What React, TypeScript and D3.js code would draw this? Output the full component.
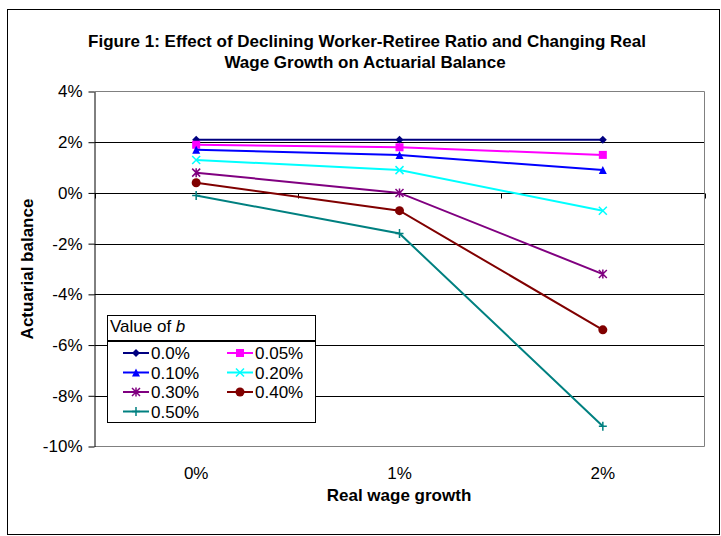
import React, { useEffect, useRef } from 'react';
import * as d3 from 'd3';

const categories = ["0%", "1%", "2%"];
const seriesNames = ["0.0%", "0.05%", "0.10%", "0.20%", "0.30%", "0.40%", "0.50%"];
const b000 = [2.1, 2.1, 2.1];
const b005 = [1.9, 1.8, 1.5];
const b010 = [1.7, 1.5, 0.9];
const b020 = [1.3, 0.9, -0.7];
const b030 = [0.8, 0.0, -3.2];
const b040 = [0.4, -0.7, -5.4];
const b050 = [-0.1, -1.6, -9.2];
const yTicks = [4, 2, 0, -2, -4, -6, -8, -10];

const seriesValues = [b000, b005, b010, b020, b030, b040, b050];
const colors = ["#000080", "#FF00FF", "#0000FF", "#00FFFF", "#800080", "#800000", "#008080"];
const markers = ["diamond", "square", "triangle", "x", "star", "circle", "plus"];

const FONT = "'Liberation Sans', Arial, sans-serif";
const FS = 17;

// draw one marker centred at (cx, cy)
function drawMarker(g: any, kind: string, cx: number, cy: number, color: string) {
  const s = 4;
  if (kind === "diamond") {
    g.append("path")
      .attr("d", `M${cx},${cy - s}L${cx + s},${cy}L${cx},${cy + s}L${cx - s},${cy}Z`)
      .attr("fill", color);
  } else if (kind === "square") {
    g.append("rect")
      .attr("x", cx - s).attr("y", cy - s)
      .attr("width", 2 * s).attr("height", 2 * s)
      .attr("fill", color);
  } else if (kind === "triangle") {
    g.append("path")
      .attr("d", `M${cx},${cy - s}L${cx + s},${cy + s}L${cx - s},${cy + s}Z`)
      .attr("fill", color);
  } else if (kind === "circle") {
    g.append("circle").attr("cx", cx).attr("cy", cy).attr("r", s + 0.5).attr("fill", color);
  } else {
    const p = d3.path();
    if (kind === "x" || kind === "star") {
      p.moveTo(cx - s, cy - s); p.lineTo(cx + s, cy + s);
      p.moveTo(cx + s, cy - s); p.lineTo(cx - s, cy + s);
    }
    if (kind === "star" || kind === "plus") {
      p.moveTo(cx, cy - s - 0.5); p.lineTo(cx, cy + s + 0.5);
    }
    if (kind === "plus") {
      p.moveTo(cx - s, cy); p.lineTo(cx + s, cy);
    }
    g.append("path").attr("d", p.toString()).attr("stroke", color)
      .attr("stroke-width", 1.5).attr("fill", "none");
  }
}

const App: React.FC = () => {
  const ref = useRef<SVGSVGElement | null>(null);

  useEffect(() => {
    if (!ref.current) return;
    const svg = d3.select(ref.current);
    svg.selectAll("*").remove();

    const left = 94.5, right = 704.5, top = 91.5, bottom = 446.5;

    const x = d3.scaleBand().domain(categories).range([left, right]).padding(0);
    const cx = (c: string) => (x(c) as number) + x.bandwidth() / 2;
    const y = d3.scaleLinear().domain([-10, 4]).range([bottom, top]);

    // outer chart border
    svg.append("rect")
      .attr("x", 7.5).attr("y", 9.5).attr("width", 712).attr("height", 525)
      .attr("fill", "#fff").attr("stroke", "#000").attr("stroke-width", 1);

    // title
    const title = svg.append("text")
      .attr("font-family", FONT).attr("font-size", FS)
      .attr("font-weight", "bold").attr("text-anchor", "middle");
    title.append("tspan").attr("x", 367).attr("y", 47)
      .text("Figure 1: Effect of Declining Worker-Retiree Ratio and Changing Real");
    title.append("tspan").attr("x", 365).attr("y", 68)
      .text("Wage Growth on Actuarial Balance");

    // gridlines
    svg.append("g").selectAll("line").data(yTicks.filter((t) => t !== 4 && t !== -10)).enter()
      .append("line")
      .attr("x1", left).attr("x2", right)
      .attr("y1", (d) => Math.round(y(d)) + 0.5).attr("y2", (d) => Math.round(y(d)) + 0.5)
      .attr("stroke", "#000").attr("stroke-width", 1);

    // plot border (top, right, bottom)
    svg.append("path")
      .attr("d", `M${left},${top}H${right}V${bottom}H${left}`)
      .attr("fill", "none").attr("stroke", "#808080").attr("stroke-width", 1);

    // y axis
    const yAxis = svg.append("g")
      .attr("transform", `translate(${left},0)`)
      .call(d3.axisLeft(y).tickValues(yTicks).tickSize(6).tickSizeOuter(0).tickFormat((d) => `${d}%`));
    yAxis.select(".domain").attr("stroke", "#000");
    yAxis.selectAll("line").attr("stroke", "#000");
    yAxis.selectAll("text").attr("font-family", FONT).attr("font-size", FS).attr("fill", "#000")
      .attr("x", -12);

    // x axis line at 0 with tick marks at band boundaries
    const y0 = Math.round(y(0)) + 0.5;
    svg.append("line").attr("x1", left).attr("x2", right).attr("y1", y0).attr("y2", y0)
      .attr("stroke", "#000");
    const bounds = categories.map((c) => x(c) as number).concat([right]);
    svg.append("g").selectAll("line").data(bounds).enter().append("line")
      .attr("x1", (d) => Math.round(d) + 0.5).attr("x2", (d) => Math.round(d) + 0.5)
      .attr("y1", y0).attr("y2", y0 + 5).attr("stroke", "#000");

    // x tick labels (low position)
    svg.append("g").selectAll("text").data(categories).enter().append("text")
      .attr("x", (d) => cx(d)).attr("y", 479)
      .attr("text-anchor", "middle").attr("font-family", FONT).attr("font-size", FS)
      .text((d) => d);

    // axis titles
    svg.append("text").attr("x", 399).attr("y", 501).attr("text-anchor", "middle")
      .attr("font-family", FONT).attr("font-size", FS).attr("font-weight", "bold")
      .text("Real wage growth");
    svg.append("text").attr("transform", `translate(33,${(top + bottom) / 2}) rotate(-90)`)
      .attr("text-anchor", "middle")
      .attr("font-family", FONT).attr("font-size", FS).attr("font-weight", "bold")
      .text("Actuarial balance");

    // series
    const line = d3.line<number>()
      .x((_, i) => cx(categories[i]))
      .y((d) => y(d));
    seriesValues.forEach((vals, si) => {
      const g = svg.append("g");
      g.append("path").datum(vals).attr("d", line)
        .attr("fill", "none").attr("stroke", colors[si]).attr("stroke-width", 2);
      vals.forEach((v, i) => drawMarker(g, markers[si], cx(categories[i]), y(v), colors[si]));
    });

    // legend
    const lg = svg.append("g");
    lg.append("rect").attr("x", 107.5).attr("y", 315.5).attr("width", 208).attr("height", 25)
      .attr("fill", "#fff").attr("stroke", "#000");
    const lt = lg.append("text").attr("x", 110).attr("y", 332)
      .attr("font-family", FONT).attr("font-size", FS);
    lt.append("tspan").text("Value of ");
    lt.append("tspan").attr("font-style", "italic").text("b");
    lg.append("rect").attr("x", 107.5).attr("y", 341.5).attr("width", 208).attr("height", 81)
      .attr("fill", "#fff").attr("stroke", "#000");
    seriesNames.forEach((name, i) => {
      const col = i % 2;
      const row = Math.floor(i / 2);
      const lx = col === 0 ? 123 : 227;
      const ly = 353 + row * 19.5;
      lg.append("line").attr("x1", lx).attr("x2", lx + 26).attr("y1", ly).attr("y2", ly)
        .attr("stroke", colors[i]).attr("stroke-width", 2);
      drawMarker(lg, markers[i], lx + 13, ly, colors[i]);
      lg.append("text").attr("x", lx + 28).attr("y", ly + 6)
        .attr("font-family", FONT).attr("font-size", FS).text(name);
    });
  }, []);

  return (
    <svg ref={ref} width={721} height={536}
      style={{ position: 'absolute', left: 0, top: 0, background: '#fff' }} />
  );
};

export default App;
